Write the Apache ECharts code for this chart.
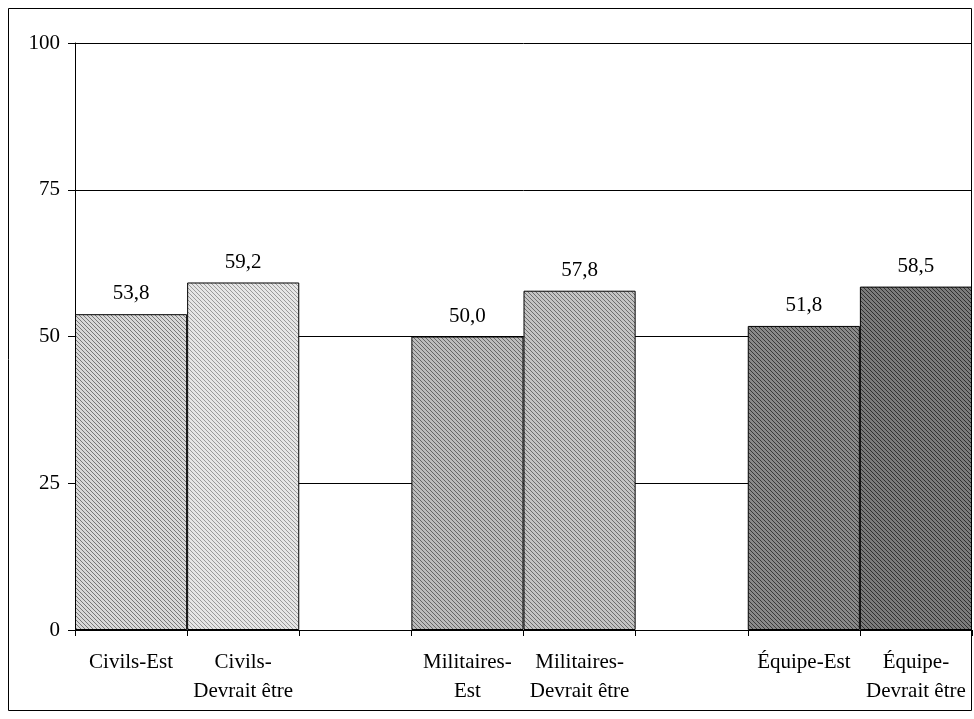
<!DOCTYPE html>
<html>
<head>
<meta charset="utf-8">
<script src="https://cdn.jsdelivr.net/npm/echarts@6/dist/echarts.min.js"></script>
<style>
  html, body { margin: 0; padding: 0; background: #fff; }
  #chart { width: 974px; height: 719px; }
</style>
</head>
<body>
<div id="chart"></div>
<script>
// Categories (empty strings are spacer slots between the three groups)
const categories = [
  'Civils-Est', 'Civils-\nDevrait être', '',
  'Militaires-\nEst', 'Militaires-\nDevrait être', '',
  'Équipe-Est', 'Équipe-\nDevrait être'
];
// Values per slot ('-' = no bar)
const values = [53.8, 59.2, '-', 50.0, 57.8, '-', 51.8, 58.5];
// Y-axis ticks
const yTicks = [0, 25, 50, 75, 100];

// Hatch fill colours per slot: [background, line]
const hatchColors = [
  ['#d8d8d8', '#777777'],
  ['#e6e6e6', '#9a9a9a'],
  null,
  ['#bcbcbc', '#666666'],
  ['#c4c4c4', '#6e6e6e'],
  null,
  ['#8a8a8a', '#3a3a3a'],
  ['#7c7c7c', '#303030']
];

function hatch(bg, fg) {
  const c = document.createElement('canvas');
  c.width = 4; c.height = 4;
  const g = c.getContext('2d');
  g.fillStyle = bg; g.fillRect(0, 0, 4, 4);
  g.fillStyle = fg;
  for (let i = 0; i < 4; i++) g.fillRect(i, i, 1, 1);
  return { image: c, repeat: 'repeat' };
}

const barData = values.map((v, i) => {
  if (v === '-') return '-';
  const hc = hatchColors[i];
  return {
    value: v,
    itemStyle: { color: hatch(hc[0], hc[1]), borderColor: '#000', borderWidth: 1 }
  };
});

const chart = echarts.init(document.getElementById('chart'), null, { renderer: 'canvas' });
const font = '"Liberation Serif", "Times New Roman", serif';

chart.setOption({
  animation: false,
  backgroundColor: '#fff',
  textStyle: { fontFamily: font },
  graphic: [{
    type: 'rect',
    shape: { x: 8.5, y: 8.5, width: 963, height: 702 },
    style: { fill: 'none', stroke: '#000', lineWidth: 1 },
    z: 100
  }],
  grid: { left: 75, right: 2, top: 43, bottom: 89, containLabel: false },
  xAxis: {
    type: 'category',
    data: categories,
    boundaryGap: true,
    axisLine: { lineStyle: { color: '#000', width: 1 } },
    axisTick: { show: true, interval: 0, length: 6, lineStyle: { color: '#000' } },
    axisLabel: {
      interval: 0, color: '#000', fontFamily: font, fontSize: 21,
      lineHeight: 29, margin: 18
    },
    splitLine: { show: false }
  },
  yAxis: {
    type: 'value',
    min: yTicks[0],
    max: yTicks[yTicks.length - 1],
    interval: 25,
    axisLine: { show: true, lineStyle: { color: '#000', width: 1 } },
    axisTick: { show: true, length: 7, lineStyle: { color: '#000' } },
    axisLabel: { color: '#000', fontFamily: font, fontSize: 21, margin: 15 },
    splitLine: { show: true, lineStyle: { color: '#000', width: 1 } }
  },
  series: [{
    type: 'bar',
    data: barData,
    barWidth: '100%',
    barGap: '0%',
    barCategoryGap: '0%',
    label: {
      show: true,
      position: 'top',
      distance: 10,
      color: '#000',
      fontFamily: font,
      fontSize: 21,
      formatter: p => Number(p.value).toFixed(1).replace('.', ',')
    }
  }]
});
</script>
</body>
</html>
